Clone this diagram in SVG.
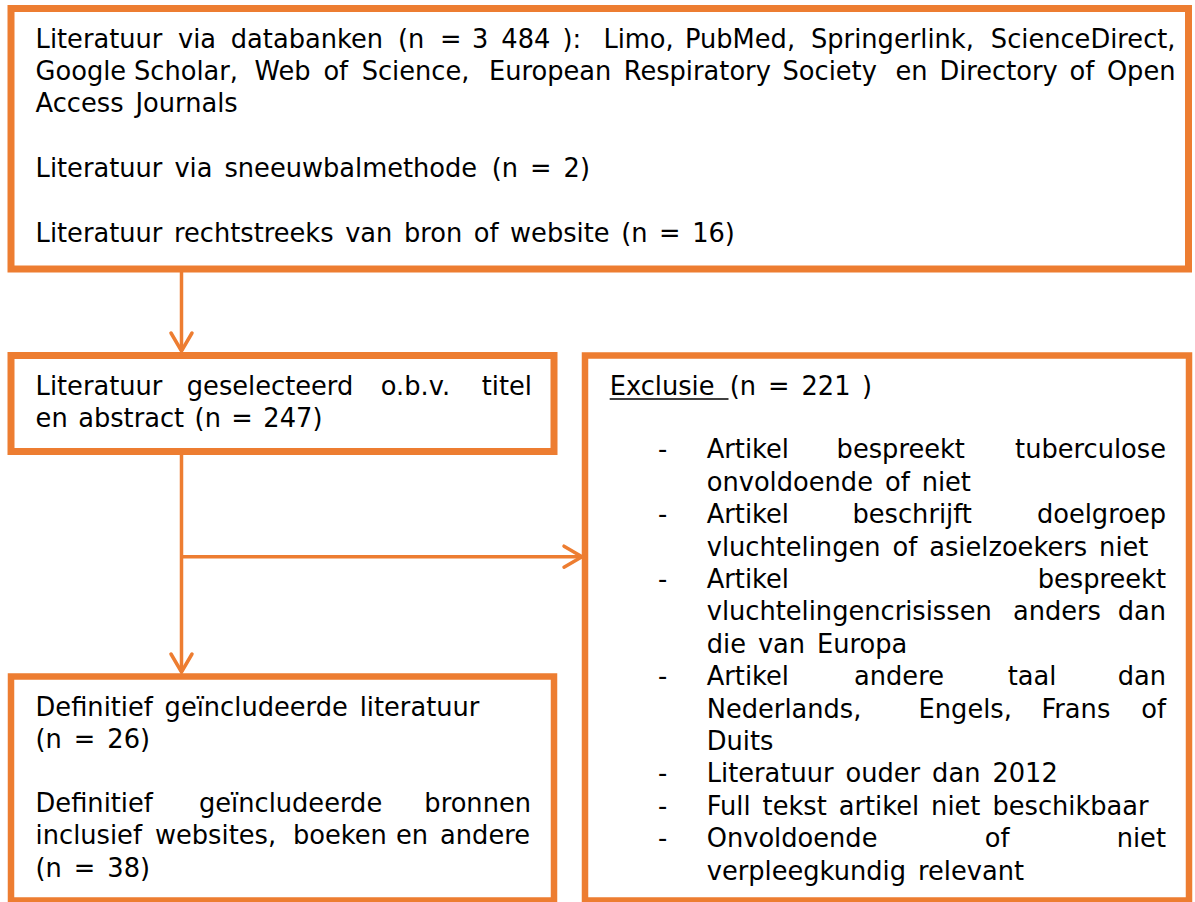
<svg xmlns="http://www.w3.org/2000/svg" width="1195" height="902" viewBox="0 0 1195 902">
<style>
  .box { fill: #ffffff; stroke: #ED7D31; stroke-width: 7; }
  .conn { fill: none; stroke: #ED7D31; stroke-width: 3.5; }
  text { font-family: "DejaVu Sans", Verdana, sans-serif; font-size: 25.7px; word-spacing: 3.8px; fill: #000000; }
  .r { text-anchor: end; }
</style>
<defs>
  <marker id="arrow" markerUnits="userSpaceOnUse" markerWidth="26" markerHeight="28" viewBox="-22 -14 26 28" refX="0" refY="0" orient="auto">
    <path d="M-18,-10.5 L0,0 L-18,10.5" fill="none" stroke="#ED7D31" stroke-width="3.5" stroke-linecap="round" stroke-linejoin="miter"/>
  </marker>
</defs>
<rect width="1195" height="902" fill="#ffffff"/>

<g id="connectors">
  <line class="conn" x1="181.5" y1="272" x2="181.5" y2="351" marker-end="url(#arrow)"/>
  <line class="conn" x1="181.5" y1="455" x2="181.5" y2="672" marker-end="url(#arrow)"/>
  <line class="conn" x1="181.5" y1="556.7" x2="582" y2="556.7" marker-end="url(#arrow)"/>
</g>

<g id="bronnen">
  <rect class="box" x="11" y="8.5" width="1177.5" height="260.5"/>
  <text y="48"><tspan x="35.6">Literatuur</tspan><tspan x="178">via</tspan><tspan x="230.8">databanken</tspan><tspan x="398">(n</tspan><tspan x="440">=</tspan><tspan x="471.9">3</tspan><tspan x="501.3">484</tspan><tspan x="562.6">):</tspan><tspan x="603.4">Limo,</tspan><tspan x="685">PubMed,</tspan><tspan x="811">Springerlink,</tspan></text>
  <text class="r" x="1175.5" y="48">ScienceDirect,</text>
  <text y="80"><tspan x="35.6">Google</tspan><tspan x="134">Scholar,</tspan><tspan x="254.5">Web</tspan><tspan x="323.4">of</tspan><tspan x="361.7">Science,</tspan><tspan x="489">European</tspan><tspan x="623.7">Respiratory</tspan><tspan x="782.5">Society</tspan><tspan x="895.4">en</tspan><tspan x="939.4">Directory</tspan><tspan x="1069.6">of</tspan></text>
  <text class="r" x="1175.5" y="80">Open</text>
  <text x="35.6" y="112">Access Journals</text>
  <text y="177"><tspan x="35.6">Literatuur via sneeuwbalmethode</tspan><tspan x="491.8">(n = 2)</tspan></text>
  <text x="35.6" y="242" style="word-spacing:3.4px">Literatuur rechtstreeks van bron of website (n = 16)</text>
</g>

<g id="geselecteerd">
  <rect class="box" x="11" y="355.5" width="543" height="96"/>
  <text y="395"><tspan x="35.6">Literatuur</tspan><tspan x="186.8">geselecteerd</tspan><tspan x="380.8">o.b.v.</tspan></text>
  <text class="r" x="532" y="395">titel</text>
  <text x="35.6" y="427" style="word-spacing:2.3px">en abstract (n = 247)</text>
</g>

<g id="geincludeerd">
  <rect class="box" x="11" y="676.5" width="543" height="224" style="stroke-width:6.5"/>
  <text y="716"><tspan x="35.6">Definitief</tspan><tspan x="164.6">geïncludeerde</tspan><tspan x="359.7">literatuur</tspan></text>
  <text x="35.6" y="748">(n = 26)</text>
  <text y="812"><tspan x="35.6">Definitief</tspan><tspan x="199">geïncludeerde</tspan></text>
  <text class="r" x="531" y="812">bronnen</text>
  <text y="844"><tspan x="35.6">inclusief</tspan><tspan x="155">websites,</tspan><tspan x="293">boeken</tspan><tspan x="396">en</tspan></text>
  <text class="r" x="530" y="844">andere</text>
  <text x="35.6" y="877">(n = 38)</text>
</g>

<g id="exclusie">
  <rect class="box" x="585" y="355.5" width="604" height="545" style="stroke-width:6.5"/>
  <text y="395"><tspan x="609.7">Exclusie</tspan><tspan x="729.7">(n = 221</tspan><tspan x="862">)</tspan></text>
  <line x1="609.7" y1="399" x2="728.5" y2="399" stroke="#000000" stroke-width="1.6"/>

  <text x="658" y="458.3">-</text>
  <text y="458.3"><tspan x="706.7">Artikel</tspan><tspan x="836.6">bespreekt</tspan></text>
  <text class="r" x="1166" y="458.3">tuberculose</text>
  <text x="706.7" y="490.7">onvoldoende of niet</text>

  <text x="658" y="523.1">-</text>
  <text y="523.1"><tspan x="706.7">Artikel</tspan><tspan x="852.5">beschrijft</tspan></text>
  <text class="r" x="1166" y="523.1">doelgroep</text>
  <text x="706.7" y="555.5">vluchtelingen of asielzoekers niet</text>

  <text x="658" y="587.9">-</text>
  <text x="706.7" y="587.9">Artikel</text>
  <text class="r" x="1166" y="587.9">bespreekt</text>
  <text y="620.3"><tspan x="706.7">vluchtelingencrisissen</tspan><tspan x="1012.9">anders</tspan></text>
  <text class="r" x="1166" y="620.3">dan</text>
  <text x="706.7" y="652.7">die van Europa</text>

  <text x="658" y="685.1">-</text>
  <text y="685.1"><tspan x="706.7">Artikel</tspan><tspan x="854">andere</tspan><tspan x="1007.7">taal</tspan></text>
  <text class="r" x="1166" y="685.1">dan</text>
  <text y="717.5"><tspan x="706.7">Nederlands,</tspan><tspan x="918.6">Engels,</tspan><tspan x="1041.4">Frans</tspan></text>
  <text class="r" x="1166" y="717.5">of</text>
  <text x="706.7" y="749.9">Duits</text>

  <text x="658" y="782.3">-</text>
  <text x="706.7" y="782.3">Literatuur ouder dan 2012</text>

  <text x="658" y="814.7">-</text>
  <text x="706.7" y="814.7">Full tekst artikel niet beschikbaar</text>

  <text x="658" y="847.1">-</text>
  <text y="847.1"><tspan x="706.7">Onvoldoende</tspan><tspan x="984.7">of</tspan></text>
  <text class="r" x="1166" y="847.1">niet</text>
  <text x="706.7" y="879.5">verpleegkundig relevant</text>
</g>
</svg>
